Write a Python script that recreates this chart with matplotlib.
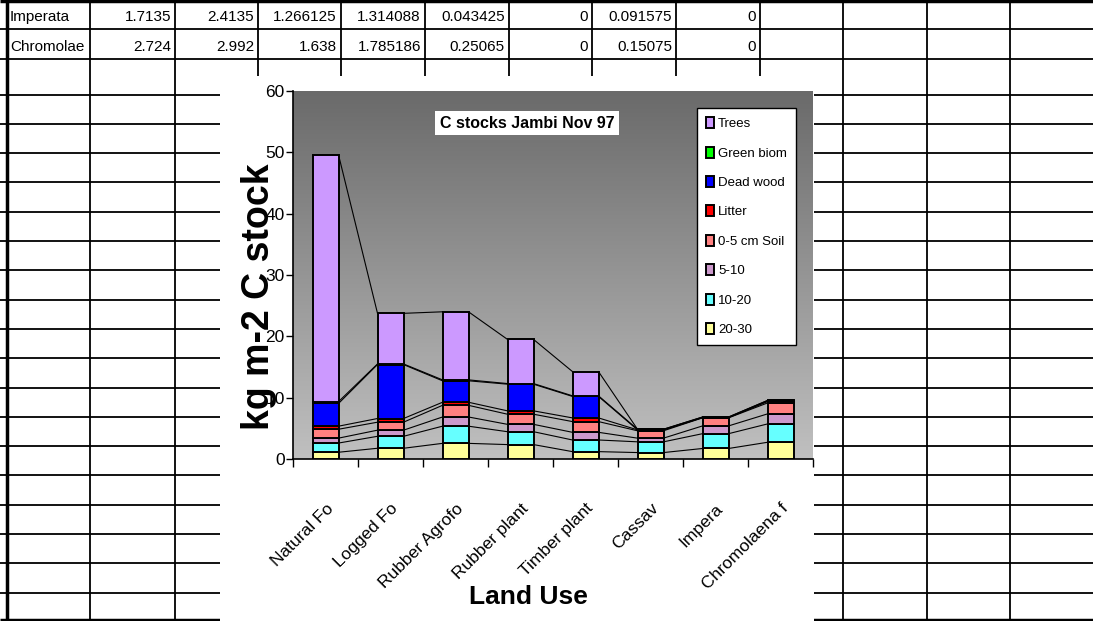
import numpy as np
import matplotlib.pyplot as plt
from matplotlib import font_manager
from matplotlib.colors import LinearSegmentedColormap
from matplotlib.patches import Rectangle

W, H = 1093, 621

installed = {f.name for f in font_manager.fontManager.ttflist}
SANS = 'Liberation Sans'
NARROW = 'Liberation Sans Narrow' if 'Liberation Sans Narrow' in installed else SANS

land_use = ['Natural Fo', 'Logged Fo', 'Rubber Agrofo', 'Rubber plant',
            'Timber plant', 'Cassav', 'Impera', 'Chromolaena f']

# C pools in kg m-2, from the bottom of the stack upwards
soil_20_30 = [1.1, 1.75, 2.55, 2.35, 1.2, 1.05, 1.7135, 2.724]
soil_10_20 = [1.5, 1.95, 2.8, 2.1, 1.9, 1.75, 2.4135, 2.992]
soil_5_10 = [0.8, 1.0, 1.5, 1.2, 1.25, 0.6, 1.266125, 1.638]
soil_0_5 = [1.45, 1.3, 1.9, 1.65, 1.75, 1.2, 1.314088, 1.785186]
litter = [0.5, 0.6, 0.5, 0.55, 0.6, 0.15, 0.043425, 0.25065]
dead_wood = [3.7, 8.8, 3.5, 4.35, 3.5, 0, 0, 0]
green_biom = [0.3, 0.1, 0.15, 0.1, 0.1, 0.1, 0.091575, 0.15075]
trees = [40.25, 8.25, 11.1, 7.2, 3.95, 0, 0, 0]

pools = [soil_20_30, soil_10_20, soil_5_10, soil_0_5, litter, dead_wood, green_biom, trees]
pool_names = ['20-30', '10-20', '5-10', '0-5 cm Soil', 'Litter', 'Dead wood', 'Green biom', 'Trees']
pool_colors = ['#FFFF99', '#66FFFF', '#CC99CC', '#FF8080', '#FF0000', '#0000FF', '#00FF00', '#CC99FF']

# worksheet rows shown above the chart
sheet_rows = [('Imperata', 6), ('Chromolae', 7)]


def cell_fmt(v):
    return f'{v:.6f}'.rstrip('0').rstrip('.')


fig = plt.figure(figsize=(W / 100, H / 100), dpi=100)

# --- worksheet behind the chart ---
sheet = fig.add_axes([0, 0, 1, 1], zorder=0)
sheet.set_xlim(0, W)
sheet.set_ylim(H, 0)
sheet.axis('off')

col_edges = [90, 175, 258, 341, 425, 509, 592, 676, 760, 843, 927, 1010]
row_edges = [29, 59] + list(np.arange(94.5, 615, 29.3))
sheet.vlines(col_edges, 0, H, color='black', lw=1.3)
sheet.hlines(row_edges, 0, W, color='black', lw=1.3)
sheet.vlines(7, 0, H, color='black', lw=2.5)
sheet.hlines([1, 620], 0, W, color='black', lw=2.5)

for r, (name, idx) in enumerate(sheet_rows):
    y = row_edges[r] - 8
    sheet.text(10, y, name, family=NARROW, fontsize=11, ha='left', va='baseline')
    for c, pool in enumerate(pools):
        sheet.text(col_edges[c + 1] - 4, y, cell_fmt(pool[idx]), family=NARROW,
                   fontsize=11, ha='right', va='baseline')

# chart object covers the cells
sheet.add_patch(Rectangle((220, 76), 594, 546, facecolor='white', edgecolor='none', zorder=3))

# --- chart ---
ax = fig.add_axes([293 / W, 1 - 459 / H, 520 / W, 368 / H], zorder=5)
ax.set_facecolor('none')
ramp = LinearSegmentedColormap.from_list('ramp', ['#6a6a6a', '#c0c0c0'])
ax.imshow(np.linspace(0, 1, 256)[:, None], extent=(-0.5, 7.5, 0, 60), aspect='auto',
          cmap=ramp, origin='upper', zorder=0)

x = np.arange(len(land_use))
bw = 0.4
bottom = np.zeros(len(x))
tops = []
for vals, name, col in zip(pools, pool_names, pool_colors):
    ax.bar(x, vals, bw, bottom=bottom, color=col, edgecolor='black', linewidth=1.4,
           label=name, zorder=3)
    bottom = bottom + np.array(vals)
    tops.append(bottom.copy())

# series lines joining the segment tops of neighbouring bars
for top in tops:
    for i in range(len(x) - 1):
        ax.plot([x[i] + bw / 2, x[i + 1] - bw / 2], [top[i], top[i + 1]],
                color='black', lw=0.8, zorder=2)

ax.set_xlim(-0.5, 7.5)
ax.set_ylim(0, 60)
ax.set_yticks(range(0, 61, 10))
ax.tick_params(axis='y', direction='out', length=5, width=1, labelsize=12.5, pad=1)
for lab in ax.get_yticklabels():
    lab.set_family(SANS)

ax.set_xticks(np.arange(-0.5, 8, 1))
ax.set_xticklabels([])
ax.set_xticks(x, minor=True)
ax.set_xticklabels(land_use, minor=True, rotation=45, ha='right', rotation_mode='anchor',
                   fontsize=12.5, family=SANS)
ax.tick_params(axis='x', which='major', direction='out', length=6, width=1)
ax.tick_params(axis='x', which='minor', length=0, pad=30)

for s in ['top', 'right']:
    ax.spines[s].set_visible(False)
for s in ['left', 'bottom']:
    ax.spines[s].set_linewidth(1.2)

handles, labels = ax.get_legend_handles_labels()
leg = ax.legend(handles[::-1], labels[::-1], loc='upper left',
                bbox_to_anchor=(697 / W, 1 - 108 / H), bbox_transform=fig.transFigure,
                prop={'family': NARROW, 'size': 9.5}, frameon=True, fancybox=False,
                edgecolor='black', facecolor='white', framealpha=1,
                handlelength=0.6, handleheight=0.9, handletextpad=0.3,
                labelspacing=1.24, borderpad=0.7, borderaxespad=0)
leg.get_frame().set_linewidth(1)
leg.set_zorder(10)

ax.text(527 / W, 1 - 123 / H, 'C stocks Jambi Nov 97', transform=fig.transFigure,
        ha='center', va='center', fontsize=11.5, fontweight='bold', family=NARROW,
        bbox=dict(facecolor='white', edgecolor='none', boxstyle='square,pad=0.3'), zorder=10)

fig.text(259 / W, 1 - 297 / H, 'kg m-2 C stock', rotation=90, ha='center', va='center',
         fontsize=27, fontweight='bold', family=SANS, zorder=10)
fig.text(528 / W, 1 - 597 / H, 'Land Use', ha='center', va='center',
         fontsize=19, fontweight='bold', family=NARROW, zorder=10)

fig.savefig('out.png', dpi=100)
